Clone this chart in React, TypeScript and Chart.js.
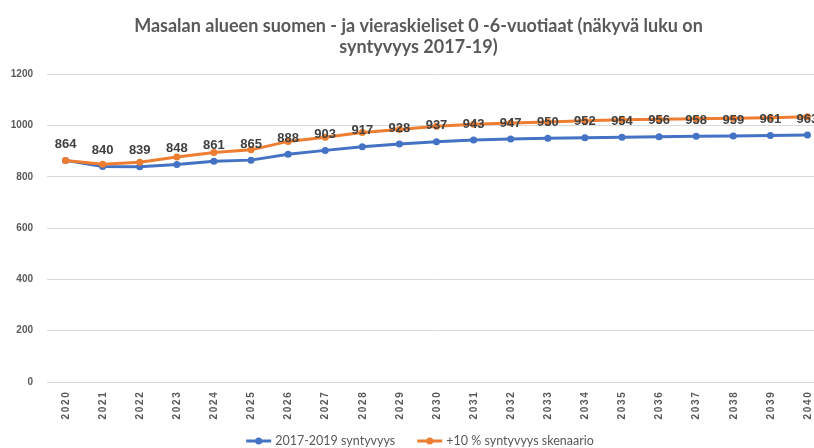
import React, { useEffect, useRef } from "react";
import { Chart, registerables } from "chart.js";

Chart.register(...registerables);

const years = ["2020","2021","2022","2023","2024","2025","2026","2027","2028","2029","2030","2031","2032","2033","2034","2035","2036","2037","2038","2039","2040"];
const baseSeries = [864,840,839,848,861,865,888,903,917,928,937,943,947,950,952,954,956,958,959,961,963];
const scenarioSeries = [864,849,857,877,895,905,938,954,973,984,997,1005,1010,1014,1019,1022,1024,1026,1028,1030,1034];
const seriesNames = ["2017-2019 syntyvyys", "+10 % syntyvyys skenaario"];
const titleLines = ["Masalan alueen suomen - ja vieraskieliset 0 -6-vuotiaat (näkyvä luku on", "syntyvyys 2017-19)"];

const BLUE = "#4472C4";
const ORANGE = "#ED7D31";
const COLORS = [BLUE, ORANGE];
const TICK_FONT = "bold 10px 'Liberation Sans', Arial, sans-serif";
const LEGEND_FONT = "12.5px Lato, 'Liberation Sans', sans-serif";

const labelPlugin = {
  id: "valueLabels",
  afterDatasetsDraw(chart: any) {
    const meta = chart.getDatasetMeta(0);
    const ctx = chart.ctx;
    ctx.save();
    ctx.font = "bold 13px 'Liberation Sans', Arial, sans-serif";
    ctx.fillStyle = "#404040";
    ctx.textAlign = "center";
    ctx.textBaseline = "middle";
    meta.data.forEach((pt: any, i: number) => {
      ctx.fillText(String(baseSeries[i]), pt.x, pt.y - 16);
    });
    ctx.restore();
  },
  afterDraw(chart: any) {
    const xs = chart.scales.x;
    const ctx = chart.ctx;
    // x tick labels (rotated, letter-spaced)
    ctx.save();
    ctx.font = TICK_FONT;
    ctx.fillStyle = "#595959";
    (ctx as any).letterSpacing = "1.7px";
    ctx.textAlign = "right";
    ctx.textBaseline = "middle";
    years.forEach((y, i) => {
      const x = xs.getPixelForTick(i);
      ctx.save();
      ctx.translate(x + 0.5, chart.chartArea.bottom + 8.5);
      ctx.rotate(-Math.PI / 2);
      ctx.fillText(y, 0, 0);
      ctx.restore();
    });
    ctx.restore();

    // legend
    ctx.save();
    ctx.font = LEGEND_FONT;
    ctx.textBaseline = "middle";
    ctx.textAlign = "left";
    const lineW = 25;
    const gapIcon = 4;
    const gapItem = 22;
    const widths = seriesNames.map((n) => lineW + gapIcon + ctx.measureText(n).width);
    const total = widths.reduce((a, b) => a + b, 0) + gapItem * (seriesNames.length - 1);
    let x = 420 - total / 2;
    const y = 441;
    seriesNames.forEach((n, i) => {
      ctx.strokeStyle = COLORS[i];
      ctx.lineWidth = 3;
      ctx.beginPath();
      ctx.moveTo(x, y);
      ctx.lineTo(x + lineW, y);
      ctx.stroke();
      ctx.fillStyle = COLORS[i];
      ctx.beginPath();
      ctx.arc(x + lineW / 2, y, 3.5, 0, Math.PI * 2);
      ctx.fill();
      ctx.fillStyle = "#595959";
      ctx.fillText(n, x + lineW + gapIcon, y);
      x += widths[i] + gapItem;
    });
    ctx.restore();
  },
};

export default function App() {
  const ref = useRef<HTMLCanvasElement>(null);
  useEffect(() => {
    const chart = new Chart(ref.current!, {
      type: "line",
      data: {
        labels: years,
        datasets: [
          {
            label: seriesNames[0],
            data: baseSeries,
            borderColor: BLUE,
            backgroundColor: BLUE,
            borderWidth: 3,
            pointRadius: 3.5,
            pointBackgroundColor: BLUE,
            pointBorderWidth: 0,
            order: 2,
          },
          {
            label: seriesNames[1],
            data: scenarioSeries,
            borderColor: ORANGE,
            backgroundColor: ORANGE,
            borderWidth: 3,
            pointRadius: 3.5,
            pointBackgroundColor: ORANGE,
            pointBorderWidth: 0,
            order: 1,
          },
        ],
      },
      options: {
        animation: false,
        responsive: false,
        maintainAspectRatio: false,
        layout: { padding: { left: 11, right: 6, top: 0, bottom: 0 } },
        plugins: {
          title: {
            display: true,
            text: titleLines,
            color: "#595959",
            font: { family: "Lato, 'Liberation Sans', sans-serif", size: 18, weight: "bold" },
            padding: { top: 15, bottom: 16 },
            lineHeight: 1.222,
          },
          legend: { display: false },
          tooltip: { enabled: false },
        },
        scales: {
          x: {
            offset: true,
            grid: { display: false },
            border: { display: true, color: "#D9D9D9" },
            ticks: { display: false },
            afterFit: (scale: any) => {
              scale.height = 66;
            },
          },
          y: {
            min: 0,
            max: 1200,
            ticks: {
              stepSize: 200,
              color: "#595959",
              font: { family: "'Liberation Sans', Arial, sans-serif", size: 10, weight: "bold" },
              padding: 14,
              callback: (v: any) => String(v),
            },
            grid: { color: "#D9D9D9", drawTicks: false },
            border: { display: false },
            afterFit: (scale: any) => {
              scale.width = 36;
            },
          },
        },
      },
      plugins: [labelPlugin],
    });
    return () => chart.destroy();
  }, []);
  return (
    <div style={{ position: "fixed", left: 0, top: 0, width: 814, height: 448, overflow: "hidden", background: "#fff" }}>
      <canvas ref={ref} width={832} height={448} style={{ display: "block", width: 832, height: 448 }} />
    </div>
  );
}
